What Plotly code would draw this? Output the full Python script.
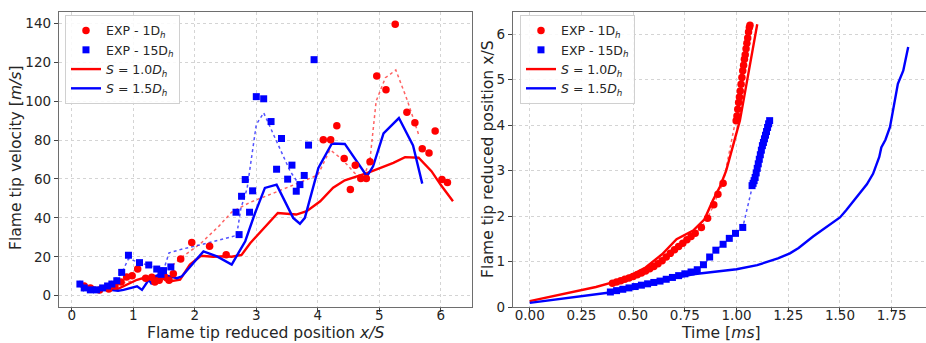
import plotly.graph_objects as go

# ---- Left panel: flame tip velocity vs reduced position ----
exp1_x = [0.2, 0.3, 0.45, 0.6, 0.7, 0.8, 0.89, 0.98, 1.07, 1.2, 1.3, 1.35, 1.42, 1.5, 1.58, 1.65,
          1.77, 1.95, 2.24, 2.51, 4.09, 4.21, 4.31, 4.43, 4.53, 4.61, 4.70, 4.79, 4.85, 4.96,
          5.11, 5.26, 5.45, 5.58, 5.70, 5.81, 5.91, 6.02, 6.11]
exp1_v = [5, 4, 3, 3.5, 5, 7, 9.6, 10.3, 13.7, 9, 9.5, 7, 8, 10, 8, 11.3,
          18.9, 27.4, 25.4, 21.1, 80.1, 80.1, 87.3, 70.5, 54.6, 67.1, 60.2, 60.2, 68.8, 112.9,
          105.9, 139.5, 94.3, 88.9, 75.5, 73.4, 84.6, 59.7, 58.2]

exp15_x = [0.13, 0.2, 0.3, 0.4, 0.5, 0.58, 0.65, 0.73, 0.81, 0.92, 1.10, 1.25, 1.38, 1.45, 1.49,
           1.61, 2.72, 2.67, 2.76, 2.82, 2.89, 2.94, 3.00, 3.12, 3.24, 3.41, 3.33, 3.51, 3.58,
           3.65, 3.71, 3.78, 3.85, 3.94]
exp15_v = [6, 4, 3, 3, 4, 5, 6, 7.7, 12.0, 20.8, 17.0, 15.8, 13.7, 11, 12.9,
           14.8, 31.4, 42.9, 51.1, 59.7, 42.9, 53.9, 102.3, 101.2, 89.5, 80.8, 65.0, 59.9, 67.1,
           53.7, 57.1, 61.8, 77.4, 121.3]

# smoothed trends of the experimental velocities
fit1_x = [0.15, 0.5, 0.9, 1.2, 1.5, 1.8, 2.1, 2.4, 2.6, 2.9, 3.3, 3.7, 4.0, 4.2, 4.4, 4.6,
          4.75, 4.85, 4.95, 5.1, 5.27, 5.45, 5.65]
fit1_v = [5, 4, 7, 9, 12, 20, 27, 36, 43, 48, 53, 58, 62, 75, 70, 63,
          61, 70, 100, 112, 116, 101, 82]
fit15_x = [0.15, 0.5, 0.8, 0.92, 1.1, 1.3, 1.5, 1.58, 1.8, 2.2, 2.68, 2.75, 2.85, 3.0, 3.12,
           3.25, 3.4, 3.55, 3.7]
fit15_v = [5, 4, 11, 19, 17, 15, 14, 22, 24, 27, 31, 45, 55, 88, 94,
           85, 75, 64, 57]

sim10_x = [0.1, 0.2, 0.35, 0.5, 0.62, 0.75, 0.84, 0.95, 1.06, 1.2, 1.3, 1.44, 1.52, 1.6, 1.76,
           1.92, 2.1, 2.3, 2.5, 2.6, 2.76, 2.9, 3.1, 3.35, 3.65, 3.82, 4.04, 4.25, 4.44, 4.8,
           5.0, 5.23, 5.42, 5.64, 5.85, 6.0, 6.2]
sim10_v = [5.7, 4.5, 4, 3.5, 3, 3.5, 4.8, 6.5, 8.2, 9.5, 8.5, 10, 8, 7.4, 8.2,
           16, 20.5, 20, 20.3, 20, 21, 27, 34, 42.5, 41.7, 43.4, 48.5, 55.5, 59.3, 63,
           65.5, 68.3, 71.2, 70.9, 64, 57, 48.5]

sim15_x = [0.1, 0.14, 0.19, 0.25, 0.35, 0.5, 0.62, 0.75, 0.84, 0.98, 1.06, 1.14, 1.2, 1.25,
           1.3, 1.35, 1.45, 1.6, 1.71, 1.79, 1.95, 2.14, 2.36, 2.6, 2.71, 2.82, 2.98, 3.14,
           3.33, 3.6, 3.71, 3.79, 4.01, 4.23, 4.44, 4.8, 4.9, 5.07, 5.32, 5.55, 5.7]
sim15_v = [5, 7.4, 3, 4.5, 2.2, 3, 3, 2.5, 3, 4, 4.8, 3, 6, 8.2,
           6, 10, 11, 10, 9, 10, 16, 22.8, 20.2, 16, 22, 28, 42.5, 55.4,
           57.1, 40, 37, 40, 65.7, 78.2, 78, 61.4, 66.5, 83.4, 91.3, 77.2, 57.6]

# ---- Right panel: reduced position vs time ----
exp1_t = [0.40, 0.42, 0.44, 0.46, 0.48, 0.50, 0.52, 0.54, 0.56, 0.58, 0.60, 0.62, 0.64, 0.66,
          0.68, 0.70, 0.72, 0.74, 0.76, 0.78, 0.80, 0.83, 0.86, 0.89, 0.91, 0.935, 0.998, 1.002,
          1.006, 1.010, 1.014, 1.018, 1.022, 1.026, 1.030, 1.034, 1.038, 1.042, 1.046, 1.050,
          1.054, 1.058, 1.062, 1.065]
exp1_p = [0.52, 0.55, 0.58, 0.61, 0.64, 0.67, 0.71, 0.75, 0.79, 0.84, 0.89, 0.95, 1.02, 1.10,
          1.18, 1.26, 1.33, 1.40, 1.48, 1.55, 1.62, 1.75, 1.95, 2.25, 2.48, 2.72, 4.1, 4.2,
          4.35, 4.5, 4.62, 4.75, 4.9, 5.05, 5.2, 5.32, 5.45, 5.55, 5.68, 5.8,
          5.92, 6.05, 6.15, 6.2]

exp15_t = [0.39, 0.42, 0.45, 0.48, 0.51, 0.54, 0.57, 0.60, 0.63, 0.66, 0.69, 0.72, 0.75, 0.78,
           0.81, 0.84, 0.87, 0.90, 0.935, 0.965, 0.995, 1.03, 1.075, 1.08, 1.085, 1.09, 1.095,
           1.10, 1.105, 1.11, 1.115, 1.12, 1.125, 1.13, 1.135, 1.14, 1.145, 1.15, 1.155, 1.16]
exp15_p = [0.33, 0.36, 0.39, 0.42, 0.45, 0.48, 0.51, 0.54, 0.57, 0.61, 0.65, 0.69, 0.73, 0.77,
           0.82, 0.93, 1.10, 1.25, 1.38, 1.51, 1.62, 1.75, 2.67, 2.72, 2.78, 2.85, 2.95,
           3.05, 3.15, 3.25, 3.35, 3.45, 3.55, 3.62, 3.7, 3.78, 3.86, 3.95, 4.03, 4.1]

sim10_t = [0.0, 0.12, 0.24, 0.32, 0.40, 0.48, 0.56, 0.64, 0.71, 0.79, 0.845, 0.885, 0.92, 0.95,
           0.98, 1.016, 1.04, 1.064, 1.085, 1.10]
sim10_p = [0.13, 0.24, 0.35, 0.44, 0.54, 0.68, 0.87, 1.16, 1.49, 1.68, 1.93, 2.34, 2.65, 3.0,
           3.5, 4.1, 4.7, 5.28, 5.8, 6.22]

sim15_t = [0.0, 0.1, 0.226, 0.387, 0.5, 0.63, 0.79, 0.9, 1.0, 1.1, 1.145, 1.2, 1.258, 1.3, 1.37,
           1.44, 1.5, 1.53, 1.56, 1.597, 1.63, 1.66, 1.675, 1.69, 1.70, 1.72, 1.742, 1.76, 1.78,
           1.806, 1.83]
sim15_p = [0.09, 0.15, 0.21, 0.32, 0.43, 0.57, 0.72, 0.78, 0.83, 0.92, 0.99, 1.07, 1.18, 1.30,
           1.55, 1.78, 1.97, 2.13, 2.30, 2.50, 2.70, 2.93, 3.1, 3.3, 3.51, 3.68, 3.96, 4.4, 4.91,
           5.2, 5.72]

RED = "#ff0000"
BLUE = "#0000ff"
FONT = "DejaVu Sans"
TXT = "#262626"
TITLE_SIZE = 15.6

NAME_E1 = "EXP - 1D<sub><i>h</i></sub>"
NAME_E15 = "EXP - 15D<sub><i>h</i></sub>"
NAME_S10 = "<i>S</i> = 1.0<i>D<sub>h</sub></i>"
NAME_S15 = "<i>S</i> = 1.5<i>D<sub>h</sub></i>"

fig = go.Figure()


def add_panel(xa, ya, leg, e1, e15, s10, s15, dot1, dot15, ms):
    # dotted guide lines (no legend entry)
    fig.add_trace(go.Scatter(x=dot1[0], y=dot1[1], mode="lines", xaxis=xa, yaxis=ya,
                             line=dict(color="rgba(255,60,60,0.8)", width=1.5, dash="dot"),
                             showlegend=False, hoverinfo="skip"))
    fig.add_trace(go.Scatter(x=dot15[0], y=dot15[1], mode="lines", xaxis=xa, yaxis=ya,
                             line=dict(color="rgba(40,40,255,0.8)", width=1.5, dash="dot"),
                             showlegend=False, hoverinfo="skip"))
    fig.add_trace(go.Scatter(x=s10[0], y=s10[1], mode="lines", name=NAME_S10, legend=leg,
                             xaxis=xa, yaxis=ya, line=dict(color=RED, width=2.4), legendrank=3))
    fig.add_trace(go.Scatter(x=s15[0], y=s15[1], mode="lines", name=NAME_S15, legend=leg,
                             xaxis=xa, yaxis=ya, line=dict(color=BLUE, width=2.4), legendrank=4))
    fig.add_trace(go.Scatter(x=e1[0], y=e1[1], mode="markers", name=NAME_E1, legend=leg,
                             xaxis=xa, yaxis=ya, legendrank=1,
                             marker=dict(color=RED, size=ms, symbol="circle", line=dict(width=0))))
    fig.add_trace(go.Scatter(x=e15[0], y=e15[1], mode="markers", name=NAME_E15, legend=leg,
                             xaxis=xa, yaxis=ya, legendrank=2,
                             marker=dict(color=BLUE, size=ms - 0.5, symbol="square",
                                         line=dict(width=0))))


add_panel("x", "y", "legend",
          (exp1_x, exp1_v), (exp15_x, exp15_v), (sim10_x, sim10_v), (sim15_x, sim15_v),
          (fit1_x, fit1_v), (fit15_x, fit15_v), 7.5)
add_panel("x2", "y2", "legend2",
          (exp1_t, exp1_p), (exp15_t, exp15_p), (sim10_t, sim10_p), (sim15_t, sim15_p),
          (exp1_t, exp1_p), (exp15_t, exp15_p), 7.5)

axis_common = dict(
    showgrid=True, gridcolor="#d4d4d4", griddash="dot", gridwidth=1,
    showline=True, mirror=True, linecolor="#6e6e6e", linewidth=1.3,
    ticks="outside", ticklen=4, tickwidth=1, tickcolor="#444",
    tickfont=dict(family=FONT, size=13.5, color=TXT),
    zeroline=False, automargin=False,
)

legend_common = dict(
    bgcolor="rgba(255,255,255,0.85)", bordercolor="#d0d0d0", borderwidth=1,
    font=dict(family=FONT, size=12.5, color=TXT), xanchor="left", yanchor="top",
    tracegroupgap=0, itemwidth=30,
)

# axis titles placed as annotations (paper coords of the plot area)
XT_Y = -0.1213
titles = [
    dict(text="Flame tip reduced position <i>x/S</i>", x=0.2382, y=XT_Y, textangle=0,
         ya="bottom"),
    dict(text="Time [<i>ms</i>]", x=0.7636, y=XT_Y, textangle=0, ya="bottom"),
    dict(text="Flame tip velocity [<i>m/s</i>]", x=-0.049, y=0.5068, textangle=-90,
         ya="middle"),
    dict(text="Flame tip reduced position x/S", x=0.4948, y=0.502, textangle=-90,
         ya="middle"),
]
annotations = [
    dict(text=t["text"], x=t["x"], y=t["y"], xref="paper", yref="paper",
         xanchor="center", yanchor=t["ya"], textangle=t["textangle"], showarrow=False,
         borderpad=0, font=dict(family=FONT, size=TITLE_SIZE, color=TXT))
    for t in titles
]

fig.update_layout(
    width=926, height=343,
    margin=dict(l=59, r=0, t=12, b=36),
    paper_bgcolor="white", plot_bgcolor="white",
    font=dict(family=FONT, color=TXT),
    xaxis=dict(domain=[0, 0.4764], range=[-0.21, 6.51], dtick=1, tick0=0,
               ticklabelstandoff=-8, **axis_common),
    yaxis=dict(range=[-5.8, 145.8], dtick=20, tick0=0, **axis_common),
    xaxis2=dict(domain=[0.5236, 1], range=[-0.081, 1.916], dtick=0.25, tick0=0,
                tickformat=".2f", anchor="y2", ticklabelstandoff=-8, **axis_common),
    yaxis2=dict(range=[0, 6.49], dtick=1, tick0=0, anchor="x2", **axis_common),
    legend=dict(x=0.0069, y=0.99, **legend_common),
    legend2=dict(x=0.5317, y=0.99, **legend_common),
    annotations=annotations,
)

fig.write_html("out.html")
